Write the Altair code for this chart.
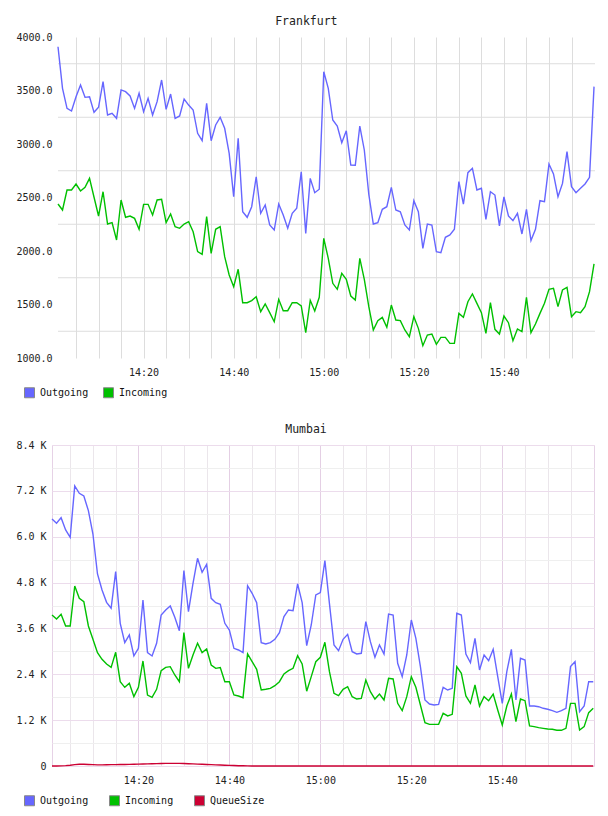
import altair as alt
import pandas as pd

FONT = "DejaVu Sans Mono"

series_top = ["Outgoing", "Incoming"]
series_bottom = ["Outgoing", "Incoming", "QueueSize"]
colors_bottom = ["#6666ff", "#00c000", "#cc0033"]

fra_out = [3909, 3520, 3333, 3308, 3442, 3551, 3436, 3442, 3296, 3343,
           3583, 3271, 3287, 3240, 3505, 3489, 3449, 3333, 3474, 3302,
           3427, 3271, 3396, 3598, 3324, 3467, 3240, 3262, 3420, 3364,
           3318, 3100, 3031, 3380, 3031, 3178, 3249, 3147, 2913, 2507,
           3053, 2367, 2315, 2414, 2694, 2352, 2430, 2243, 2196, 2439,
           2336, 2212, 2352, 2399, 2741, 2165, 2679, 2545, 2577, 3676,
           3520, 3224, 3168, 3012, 3124, 2804, 2801, 3168, 2944, 2530,
           2252, 2265, 2390, 2414, 2595, 2383, 2367, 2243, 2196, 2470,
           2367, 2025, 2252, 2243, 1994, 1984, 2128, 2150, 2203, 2648,
           2439, 2732, 2773, 2570, 2586, 2296, 2554, 2523, 2234, 2505,
           2327, 2283, 2352, 2159, 2390, 2097, 2203, 2470, 2461, 2813,
           2720, 2507, 2632, 2928, 2601, 2545, 2586, 2626, 2688, 3536]

fra_in = [2439, 2383, 2570, 2570, 2626, 2561, 2595, 2679, 2502, 2327,
          2554, 2252, 2265, 2103, 2477, 2315, 2327, 2305, 2203, 2436,
          2436, 2336, 2477, 2483, 2265, 2346, 2227, 2212, 2252, 2274,
          2180, 1994, 1969, 2321, 1978, 2203, 2227, 1947, 1776, 1667,
          1829, 1517, 1517, 1536, 1573, 1433, 1505, 1424, 1339, 1548,
          1442, 1442, 1517, 1517, 1486, 1237, 1539, 1439, 1567, 2118,
          1931, 1698, 1642, 1792, 1735, 1579, 1542, 1931, 1735, 1480,
          1262, 1349, 1380, 1287, 1495, 1355, 1349, 1262, 1199, 1386,
          1277, 1115, 1215, 1224, 1128, 1193, 1193, 1137, 1137, 1417,
          1380, 1526, 1598, 1511, 1424, 1231, 1517, 1268, 1224, 1392,
          1330, 1162, 1271, 1246, 1567, 1237, 1318, 1417, 1511, 1642,
          1651, 1480, 1636, 1660, 1386, 1433, 1424, 1480, 1620, 1879]

mum_out = [6464, 6351, 6499, 6176, 5985, 7328, 7136, 7066, 6682, 6071,
           5025, 4606, 4283, 4127, 5085, 3734, 3228, 3428, 2879, 3080,
           4344, 2966, 2879, 3211, 3952, 4083, 4187, 3891, 3541, 5112,
           4039, 4780, 5436, 5068, 5278, 4388, 4274, 4231, 3734, 3559,
           3080, 3036, 2966, 4719, 4519, 4274, 3228, 3193, 3228, 3315,
           3489, 3908, 4083, 4065, 4763, 4274, 3150, 3690, 4475, 4536,
           5373, 4250, 3167, 3018, 3315, 3446, 2992, 2931, 2949, 3777,
           3254, 2845, 3167, 2931, 3978, 3952, 2688, 2338, 2905, 3821,
           3341, 2600, 1727, 1622, 1596, 1614, 2059, 1989, 2033, 3996,
           3952, 2931, 2703, 3341, 2512, 2905, 2756, 3054, 2338, 1640,
           2468, 3054, 1727, 2818, 2774, 1570, 1570, 1552, 1510, 1484,
           1447, 1405, 1447, 1510, 2600, 2730, 1421, 1570, 2206, 2206]

mum_in = [3952, 3847, 3970, 3664, 3664, 4711, 4388, 4300, 3664, 3315,
          2966, 2792, 2669, 2582, 2975, 2206, 2059, 2164, 1814, 2059,
          2748, 1858, 1797, 2007, 2494, 2582, 2600, 2382, 2206, 3489,
          2556, 2905, 3211, 2966, 3062, 2643, 2556, 2574, 2206, 2206,
          1858, 1832, 1788, 2931, 2730, 2530, 1989, 2007, 2033, 2102,
          2206, 2408, 2494, 2556, 2887, 2669, 1958, 2338, 2730, 2845,
          3237, 2468, 1902, 1840, 2007, 2076, 1814, 1753, 1771, 2251,
          1945, 1753, 1884, 1727, 2294, 2277, 1640, 1447, 1814, 2338,
          2059, 1596, 1134, 1090, 1090, 1090, 1379, 1309, 1352, 2600,
          2425, 1832, 1640, 2120, 1570, 1814, 1710, 1884, 1466, 1073,
          1570, 1884, 1160, 1753, 1710, 1047, 1030, 1003, 986, 968,
          960, 934, 934, 986, 1640, 1640, 942, 1030, 1396, 1510]

mum_queue = [0, 0, 3, 10, 20, 35, 45, 45, 40, 35,
             30, 30, 32, 35, 35, 38, 40, 42, 45, 48,
             52, 55, 58, 62, 65, 68, 70, 70, 68, 65,
             60, 55, 50, 45, 40, 35, 30, 25, 20, 17,
             12, 8, 5, 2, 0, 0, 0, 0, 0, 0,
             0, 0, 0, 0, 0, 0, 0, 0, 0, 0,
             0, 0, 0, 0, 0, 0, 0, 0, 0, 0,
             0, 0, 0, 0, 0, 0, 0, 0, 0, 0,
             0, 0, 0, 0, 0, 0, 0, 0, 0, 0,
             0, 0, 0, 0, 0, 0, 0, 0, 0, 0,
             0, 0, 0, 0, 0, 0, 0, 0, 0, 0,
             0, 0, 0, 0, 0, 0, 0, 0, 0, 0]

fra_grid = [1250, 1750, 2250, 2750, 3250, 3750]
fra_labels = [1000, 1500, 2000, 2500, 3000, 3500, 4000]
mum_ticks = [0, 600, 1200, 1800, 2400, 3000, 3600, 4200, 4800, 5400,
             6000, 6600, 7200, 7800, 8400]

times = [t.strftime("%Y-%m-%dT%H:%M:%S")
         for t in pd.date_range("2024-01-01 14:01:00", periods=120, freq="min")]
grid_start = "2024-01-01T14:01:00"
grid_end = "2024-01-01T16:00:13"


def dt(h, m, s=0):
    return alt.DateTime(year=2024, month=1, date=1, hours=h, minutes=m, seconds=s)


x_vals = [dt(14 + (5 * k) // 60, (5 * k) % 60) for k in range(1, 24)]
x_label_expr = "minutes(datum.value) % 20 == 0 ? timeFormat(datum.value, '%H:%M') : ''"

top_df = pd.DataFrame({
    "time": times * 2,
    "series": ["Outgoing"] * 120 + ["Incoming"] * 120,
    "value": fra_out + fra_in,
})
grid_df = pd.DataFrame({"value": fra_grid,
                        "time": [grid_start] * len(fra_grid),
                        "time_end": [grid_end] * len(fra_grid)})

bot_df = pd.DataFrame({
    "time": times * 3,
    "series": ["Outgoing"] * 120 + ["Incoming"] * 120 + ["QueueSize"] * 120,
    "value": mum_out + mum_in + mum_queue,
})

label_kw = dict(labelFont=FONT, labelFontSize=10, labelColor="#222222")
cmap = dict(zip(series_bottom, colors_bottom))


def legend(x, pad, order):
    return alt.Legend(orient="none", legendX=x, legendY=350, values=order,
                      direction="horizontal", title=None,
                      symbolType="square", symbolSize=100,
                      symbolStrokeColor="#888888", symbolStrokeWidth=1,
                      labelOffset=5, columnPadding=pad, padding=0,
                      labelFont=FONT, labelFontSize=10, labelColor="#111111")


def swatch_fill(order):
    # reversed domain so the swatch legend is not merged with the (hidden) line legend
    dom = list(reversed(order))
    return alt.Scale(domain=dom, range=[cmap[s] for s in dom])


# ---------- Top chart (Frankfurt) ----------
x_top = alt.X("time:T",
              scale=alt.Scale(domain=[dt(13, 59, 40), dt(16, 0, 13)]),
              axis=alt.Axis(values=x_vals, labelExpr=x_label_expr, title=None,
                            grid=True, gridColor="#dddddd", ticks=False, domain=False,
                            labelPadding=9, labelAngle=0, labelFlush=False,
                            labelOverlap=False, **label_kw))
y_top = alt.Y("value:Q",
              scale=alt.Scale(domain=[1000, 4000], nice=False, zero=False),
              axis=alt.Axis(values=fra_labels, format=".1f", grid=False, ticks=False,
                            domain=False, title=None, labelPadding=0,
                            labelOverlap=False, **label_kw))

top_rules = alt.Chart(grid_df).mark_rule(color="#dddddd", strokeWidth=1).encode(
    x=x_top, x2="time_end:T", y=y_top)
top_lines = alt.Chart(top_df).mark_line(strokeWidth=1.4).encode(
    x=x_top, y=y_top,
    color=alt.Color("series:N", scale=alt.Scale(domain=series_top, range=colors_bottom[:2]),
                    legend=None),
)
top_swatch = alt.Chart(top_df).mark_square(opacity=1, filled=True, size=0).encode(
    x=x_top, y=y_top,
    fill=alt.Fill("series:N", scale=swatch_fill(series_top),
                  legend=legend(-28, 12, series_top)),
)
top = alt.layer(top_rules, top_lines, top_swatch).properties(
    width=543, height=321,
    title=alt.TitleParams("Frankfurt", font=FONT, fontSize=11.5, fontWeight="normal",
                          color="#222222", anchor="middle", frame="bounds", offset=5),
    view=alt.ViewBackground(stroke=None),
)

# ---------- Bottom chart (Mumbai) ----------
x_bot = alt.X("time:T",
              scale=alt.Scale(domain=[dt(14, 1, 0), dt(16, 0, 10)]),
              axis=alt.Axis(values=x_vals, labelExpr=x_label_expr, title=None,
                            grid=True,
                            gridColor={"condition": {"test": "minutes(datum.value) % 20 == 0",
                                                     "value": "#e4cfe4"},
                                       "value": "#ebe6eb"},
                            ticks=False, domain=False, labelPadding=9, labelAngle=0,
                            labelFlush=False, labelOverlap=False, **label_kw))
y_bot = alt.Y("value:Q",
              scale=alt.Scale(domain=[0, 8400], nice=False, zero=True),
              axis=alt.Axis(values=mum_ticks,
                            labelExpr="datum.value % 1200 != 0 ? '' : (datum.value == 0 ? '0' : format(datum.value / 1000, '.1f') + ' K')",
                            grid=True,
                            gridColor={"condition": {"test": "datum.value % 1200 == 0",
                                                     "value": "#ecdcec"},
                                       "value": "#efefef"},
                            ticks=False, domain=False, title=None, labelPadding=6,
                            labelOverlap=False, **label_kw))

bot_lines = alt.Chart(bot_df).mark_line(strokeWidth=1.4).encode(
    x=x_bot, y=y_bot,
    color=alt.Color("series:N", scale=alt.Scale(domain=series_bottom, range=colors_bottom),
                    legend=None),
)
bot_swatch = alt.Chart(bot_df).mark_square(opacity=1, filled=True, size=0).encode(
    x=x_bot, y=y_bot,
    fill=alt.Fill("series:N", scale=swatch_fill(series_bottom),
                  legend=legend(-28, 18, series_bottom)),
)
bottom = alt.layer(bot_lines, bot_swatch).properties(
    width=542, height=321,
    title=alt.TitleParams("Mumbai", font=FONT, fontSize=11.5, fontWeight="normal",
                          color="#222222", anchor="middle", frame="bounds", offset=5),
    view=alt.ViewBackground(stroke="#e6d2e6"),
)

chart = alt.concat(top, bottom, columns=1, spacing=23).resolve_scale(
    x="independent", y="independent", color="independent", fill="independent"
).properties(
    padding={"left": 15, "top": 15, "right": 5, "bottom": 5},
    background="white",
)

chart.save("out.html", embed_options={"renderer": "svg", "actions": False})
